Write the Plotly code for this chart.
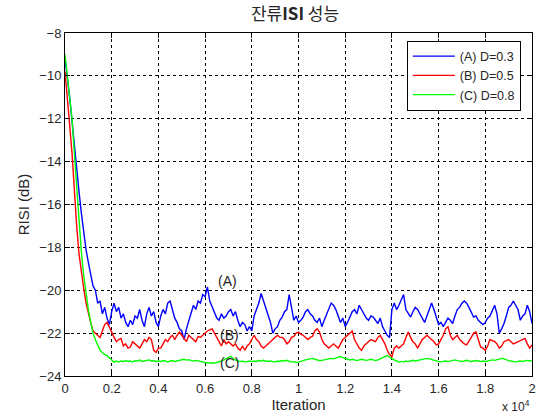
import plotly.graph_objects as go

# iteration axis in units of 10^4 (step 0.01 = 100 iterations)
iters = [round(i * 0.01, 2) for i in range(201)]

risi_a = [
    -9.2, -10.0, -11.0, -12.1, -13.3, -14.2, -15.4, -16.4, -17.4, -18.1,
    -18.7, -19.2, -19.8, -20.0, -20.6, -20.5, -21.1, -20.8, -21.3, -21.6,
    -21.0, -20.6, -21.0, -20.8, -21.3, -21.1, -21.5, -21.7, -21.4, -21.6,
    -21.2, -21.3, -20.9, -21.4, -21.7, -21.1, -20.8, -21.2, -21.0, -21.5,
    -21.7, -21.2, -20.9, -21.1, -20.6, -20.5, -20.9, -21.3, -21.5, -21.8,
    -21.9, -22.3, -21.8, -21.4, -21.0, -20.7, -20.9, -20.5, -20.6, -20.2,
    -20.3, -19.85, -20.5, -20.8, -21.1, -21.3, -21.4, -21.1, -21.3, -21.2,
    -21.0, -20.9, -21.2, -21.0, -21.4, -21.7, -21.5, -21.6, -21.9, -21.7,
    -21.9, -21.2, -20.9, -20.6, -20.15, -20.5, -20.8, -21.2, -21.5, -22.0,
    -21.8, -21.7, -21.4, -21.25, -21.0, -20.9, -20.2, -20.8, -21.4, -21.2,
    -21.5, -21.4, -21.25, -21.0, -20.9, -21.1, -21.2, -21.4, -21.5, -21.3,
    -21.7, -21.4, -21.1, -20.8, -20.6, -20.7, -20.9, -21.2, -21.5, -21.3,
    -21.7, -21.5, -21.25, -21.0, -20.9, -21.1, -20.7, -20.9, -21.1, -21.3,
    -21.4, -21.2, -21.25, -21.4, -21.55, -21.3, -21.7, -21.9, -22.1, -22.2,
    -20.9, -20.6, -20.9, -20.7, -20.4, -20.2, -20.9, -21.1, -21.25, -21.0,
    -20.8, -20.9, -21.1, -21.3, -21.5, -21.2, -20.9, -20.6, -20.9, -21.25,
    -21.6, -21.5, -21.7, -21.5, -21.3, -21.4, -21.55, -21.2, -20.9, -20.8,
    -20.6, -20.5, -20.6, -20.8, -21.0, -21.25, -21.2, -21.4, -21.5, -21.6,
    -21.5, -21.3, -21.2, -20.9, -20.7, -21.1, -22.0, -21.8, -21.55, -21.2,
    -20.8, -20.7, -20.5, -20.7, -20.9, -21.4, -21.2, -21.1, -20.7, -21.0,
    -21.55,
]

risi_b = [
    -9.8, -10.9, -12.3, -13.6, -15.4, -17.0, -18.3, -19.2, -19.9, -20.6,
    -21.1, -21.5, -21.9, -22.0, -22.1, -22.2, -21.9, -21.6, -21.5, -21.7,
    -21.95, -22.2, -22.4, -22.3, -22.25, -22.6, -22.5, -22.7, -22.65, -22.4,
    -22.5, -22.6, -22.7, -22.5, -22.3, -22.4, -22.2, -22.3, -22.8, -22.9,
    -22.7, -22.7, -22.5, -22.3, -22.4, -22.2, -22.1, -22.3, -22.1, -21.95,
    -22.1, -22.25, -22.4, -22.1, -22.2, -22.3, -22.4, -22.15, -22.2, -22.1,
    -22.0, -21.9, -21.85, -21.8, -22.0, -22.2, -22.4, -22.6, -22.3, -22.5,
    -22.4, -22.5, -22.6, -22.5, -22.7, -22.8, -22.6, -22.8, -22.6, -22.5,
    -22.3, -22.1, -22.3, -22.4, -22.6, -22.7, -22.6, -22.5, -22.4, -22.3,
    -22.2, -22.1, -22.2, -22.2, -22.3, -22.5, -22.4, -22.2, -22.15, -22.0,
    -21.95, -22.05, -22.1, -22.2, -22.3, -22.2, -22.15, -21.9, -21.8, -21.95,
    -22.3, -22.5, -22.6, -22.7, -22.6, -22.5, -22.6, -22.7, -22.5, -22.3,
    -22.2, -22.1, -22.0, -21.9, -22.3, -22.5, -22.7, -22.8, -22.6, -22.5,
    -22.4, -22.3, -22.35, -22.4, -22.2, -22.1, -22.3, -22.5, -22.8, -23.0,
    -23.1, -22.7, -22.6, -22.7, -22.6, -22.5, -22.2, -21.95, -22.2, -22.4,
    -22.5, -22.7, -22.5, -22.3, -22.2, -22.1, -22.2, -22.3, -22.4, -22.55,
    -22.5, -22.3, -22.1, -21.8, -21.7, -22.1, -22.3, -22.2, -22.1, -22.3,
    -22.4, -22.5, -22.55, -22.4, -22.2, -22.0, -21.95, -22.3, -22.65, -22.7,
    -22.8, -22.6, -22.3, -22.35, -22.4, -22.5, -22.7, -22.6, -22.4, -22.35,
    -22.3, -22.4, -22.5, -22.45, -22.4, -22.35, -22.3, -22.25, -22.5, -22.7,
    -22.55,
]

risi_c = [
    -9.0, -10.1, -11.0, -12.0, -13.6, -15.3, -16.9, -18.2, -19.3, -20.2,
    -20.9, -21.5, -22.0, -22.3, -22.55, -22.8, -22.9, -23.0, -23.05, -23.15,
    -23.25, -23.35, -23.3, -23.35, -23.3, -23.33, -23.28, -23.32, -23.3, -23.35,
    -23.28, -23.3, -23.26, -23.32, -23.3, -23.27, -23.25, -23.3, -23.28, -23.33,
    -23.3, -23.32, -23.28, -23.3, -23.35, -23.3, -23.28, -23.32, -23.3, -23.27,
    -23.25, -23.22, -23.26, -23.24, -23.28, -23.3, -23.27, -23.3, -23.32, -23.35,
    -23.37, -23.38, -23.4, -23.38, -23.4, -23.37, -23.35, -23.3, -23.25, -23.2,
    -23.15, -23.08, -23.18, -23.25, -23.3, -23.33, -23.3, -23.35, -23.32, -23.3,
    -23.33, -23.3, -23.32, -23.28, -23.3, -23.27, -23.3, -23.32, -23.3, -23.33,
    -23.35, -23.3, -23.32, -23.28, -23.3, -23.27, -23.3, -23.35, -23.33, -23.37,
    -23.35, -23.3, -23.28, -23.25, -23.22, -23.2, -23.18, -23.22, -23.25, -23.28,
    -23.27, -23.25, -23.22, -23.2, -23.18, -23.2, -23.15, -23.12, -23.1, -23.15,
    -23.2, -23.22, -23.25, -23.22, -23.25, -23.28, -23.25, -23.22, -23.25, -23.27,
    -23.25, -23.22, -23.25, -23.28, -23.25, -23.2, -23.15, -23.08, -23.05, -23.12,
    -23.2, -23.25, -23.3, -23.35, -23.32, -23.35, -23.3, -23.33, -23.3, -23.27,
    -23.3, -23.28, -23.25, -23.23, -23.2, -23.18, -23.2, -23.23, -23.25, -23.3,
    -23.33, -23.35, -23.32, -23.3, -23.33, -23.3, -23.27, -23.25, -23.28, -23.3,
    -23.32, -23.3, -23.27, -23.3, -23.32, -23.3, -23.28, -23.3, -23.33, -23.3,
    -23.32, -23.3, -23.28, -23.25, -23.27, -23.23, -23.2, -23.18, -23.2, -23.25,
    -23.28, -23.3, -23.33, -23.35, -23.32, -23.3, -23.32, -23.3, -23.27, -23.3,
    -23.28,
]

series_names = ["(A) D=0.3", "(B) D=0.5", "(C) D=0.8"]
series_colors = ["#0000ff", "#ff0000", "#00ff00"]

x_tickvals = [0, 0.2, 0.4, 0.6, 0.8, 1.0, 1.2, 1.4, 1.6, 1.8, 2.0]
x_ticktext = ["0", "0.2", "0.4", "0.6", "0.8", "1", "1.2", "1.4", "1.6", "1.8", "2"]
y_tickvals = [-24, -22, -20, -18, -16, -14, -12, -10, -8]

labels = ["(A)", "(B)", "(C)"]
label_x = [0.695, 0.705, 0.705]
label_y = [-19.55, -22.1, -23.4]

FONT = "Liberation Sans, Arial, sans-serif"
TXT = "#262626"

fig = go.Figure()
for name, ys, col in zip(series_names, [risi_a, risi_b, risi_c], series_colors):
    fig.add_trace(go.Scatter(x=iters, y=ys, mode="lines", name=name,
                             line=dict(color=col, width=1.4)))

for t, lx, ly in zip(labels, label_x, label_y):
    fig.add_annotation(x=lx, y=ly, text=t, showarrow=False,
                       font=dict(family=FONT, size=14, color=TXT))

fig.add_annotation(xref="paper", yref="paper", x=1.0, y=-0.118, xanchor="right",
                   yanchor="bottom", text="x 10<sup>4</sup>", showarrow=False,
                   font=dict(family=FONT, size=12, color=TXT))

axis_common = dict(showline=True, linecolor="black", linewidth=1, mirror="ticks",
                   ticks="inside", ticklen=5, tickcolor="black",
                   showgrid=True, gridcolor="black", gridwidth=1, griddash="dot",
                   zeroline=False,
                   tickfont=dict(family=FONT, size=13, color=TXT))

fig.update_xaxes(range=[0, 2], tickvals=x_tickvals, ticktext=x_ticktext,
                 title=dict(text="Iteration", font=dict(family=FONT, size=15, color=TXT),
                            standoff=3),
                 **axis_common)
fig.update_yaxes(range=[-24, -8], tickvals=y_tickvals,
                 title=dict(text="RISI (dB)", font=dict(family=FONT, size=15, color=TXT),
                            standoff=6),
                 **axis_common)

fig.update_layout(
    width=543, height=418,
    margin=dict(l=65, r=7, t=33, b=42),
    paper_bgcolor="white", plot_bgcolor="white",
    title=dict(text="잔류<b>ISI</b> 성능", x=295 / 543, xanchor="center",
               y=1 - 14 / 418, yanchor="middle",
               font=dict(family="Noto Sans CJK KR, sans-serif", size=17, color=TXT)),
    showlegend=True,
    legend=dict(x=0.732, y=0.978, xanchor="left", yanchor="top",
                bgcolor="white", bordercolor="black", borderwidth=1,
                font=dict(family=FONT, size=12.5, color=TXT),
                itemwidth=42, tracegroupgap=0),
)

fig.write_html("out.html")
